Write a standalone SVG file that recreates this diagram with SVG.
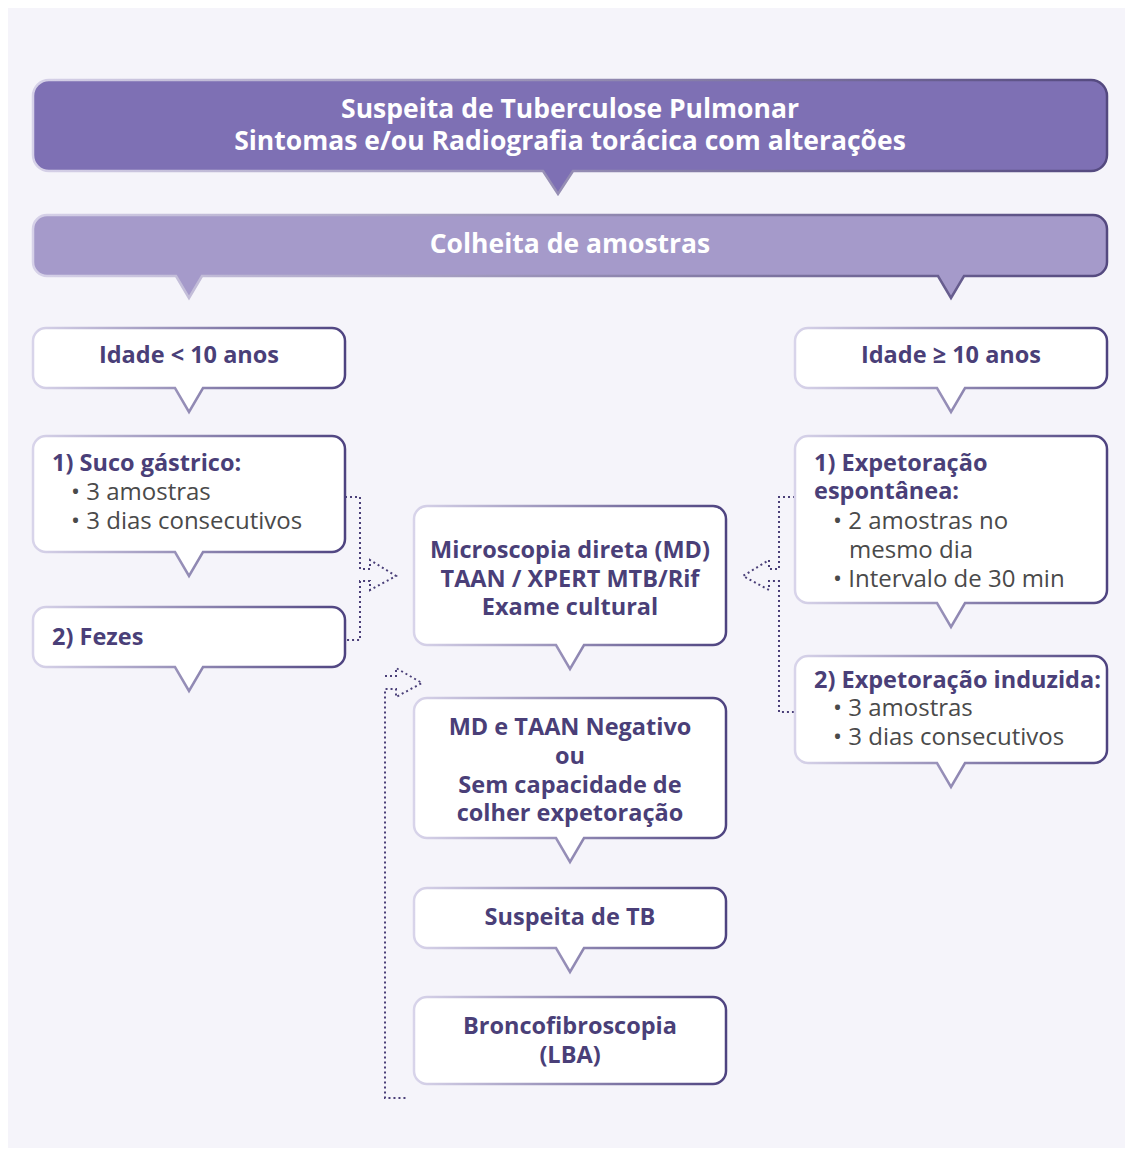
<svg xmlns="http://www.w3.org/2000/svg" width="1131" height="1153" viewBox="0 0 1131 1153">
<defs>
<linearGradient id="edge" x1="0" y1="0" x2="1" y2="0">
<stop offset="0" stop-color="#d8d4ea"/>
<stop offset="1" stop-color="#4e4380"/>
</linearGradient>
<linearGradient id="edgeHead" x1="0" y1="0" x2="1" y2="0">
<stop offset="0" stop-color="#d6d1e8"/>
<stop offset="1" stop-color="#54497f"/>
</linearGradient>
<style>
.box{fill:#ffffff;stroke:url(#edge);stroke-width:2.5;}
.head{fill:#7e70b4;stroke:url(#edgeHead);stroke-width:2.5;}
.sub{fill:#a59aca;stroke:url(#edgeHead);stroke-width:2.5;}
.t{font-family:"Open Sans","Liberation Sans",sans-serif;font-weight:700;font-size:23.5px;fill:#4a3f78;}
.c{text-anchor:middle;}
.w{font-family:"Open Sans","Liberation Sans",sans-serif;font-weight:700;font-size:26.5px;fill:#ffffff;text-anchor:middle;}
.b{font-family:"Open Sans","Liberation Sans",sans-serif;font-weight:400;font-size:24px;fill:#4a4a4a;}
.dot{fill:none;stroke:#4a3f78;stroke-width:2;stroke-dasharray:2 3;}
</style>
</defs>
<rect x="0" y="0" width="1131" height="1153" fill="#ffffff"/>
<rect x="8" y="8" width="1117" height="1140" fill="#f5f4fa"/>

<g id="connectors">
<path class="dot" d="M345,497 H360 V569 H370 V560 L396,576 L370,590 V581 H360 V640 H345"/>
<path class="dot" d="M795,497 H779 V569 H769 V560 L743,576 L769,590 V581 H779 V712 H795"/>
<path class="dot" d="M385,676 H396 V668 L422,683 L396,697 V689 H385 V1098 H407"/>
</g>

<g id="n-header">
<path class="head" d="M49,80 H1091 A16,16 0 0 1 1107,96 V155 A16,16 0 0 1 1091,171 H573 L558,194 L543,171 H49 A16,16 0 0 1 33,155 V96 A16,16 0 0 1 49,80 Z"/>
<text class="w" x="570" y="118">Suspeita de Tuberculose Pulmonar</text>
<text class="w" x="570" y="150">Sintomas e/ou Radiografia torácica com alterações</text>
</g>

<g id="n-colheita">
<path class="sub" d="M47,215 H1093 A14,14 0 0 1 1107,229 V262 A14,14 0 0 1 1093,276 H964 L951,298 L938,276 H202 L189,298 L176,276 H47 A14,14 0 0 1 33,262 V229 A14,14 0 0 1 47,215 Z"/>
<text class="w" x="570" y="253">Colheita de amostras</text>
</g>

<g id="n-idade-menor">
<path class="box" d="M46,328 H332 A13,13 0 0 1 345,341 V375 A13,13 0 0 1 332,388 H203 L189,412 L175,388 H46 A13,13 0 0 1 33,375 V341 A13,13 0 0 1 46,328 Z"/>
<text class="t c" x="189" y="363">Idade &lt; 10 anos</text>
</g>

<g id="n-idade-maior">
<path class="box" d="M808,328 H1094 A13,13 0 0 1 1107,341 V375 A13,13 0 0 1 1094,388 H965 L951,412 L937,388 H808 A13,13 0 0 1 795,375 V341 A13,13 0 0 1 808,328 Z"/>
<text class="t c" x="951" y="363">Idade ≥ 10 anos</text>
</g>

<g id="n-suco">
<path class="box" d="M46,436 H332 A13,13 0 0 1 345,449 V539 A13,13 0 0 1 332,552 H203 L189,576 L175,552 H46 A13,13 0 0 1 33,539 V449 A13,13 0 0 1 46,436 Z"/>
<text class="t" x="52" y="471">1) Suco gástrico:</text>
<text class="b" x="71" y="500">• 3 amostras</text>
<text class="b" x="71" y="529">• 3 dias consecutivos</text>
</g>

<g id="n-fezes">
<path class="box" d="M46,607 H332 A13,13 0 0 1 345,620 V654 A13,13 0 0 1 332,667 H203 L189,691 L175,667 H46 A13,13 0 0 1 33,654 V620 A13,13 0 0 1 46,607 Z"/>
<text class="t" x="52" y="645">2) Fezes</text>
</g>

<g id="n-md">
<path class="box" d="M427,506 H713 A13,13 0 0 1 726,519 V632 A13,13 0 0 1 713,645 H584 L570,669 L556,645 H427 A13,13 0 0 1 414,632 V519 A13,13 0 0 1 427,506 Z"/>
<text class="t c" x="570" y="558">Microscopia direta (MD)</text>
<text class="t c" x="570" y="587">TAAN / XPERT MTB/Rif</text>
<text class="t c" x="570" y="615">Exame cultural</text>
</g>

<g id="n-negativo">
<path class="box" d="M427,698 H713 A13,13 0 0 1 726,711 V825 A13,13 0 0 1 713,838 H584 L570,862 L556,838 H427 A13,13 0 0 1 414,825 V711 A13,13 0 0 1 427,698 Z"/>
<text class="t c" x="570" y="735">MD e TAAN Negativo</text>
<text class="t c" x="570" y="764">ou</text>
<text class="t c" x="570" y="793">Sem capacidade de</text>
<text class="t c" x="570" y="821">colher expetoração</text>
</g>

<g id="n-suspeita-tb">
<path class="box" d="M427,888 H713 A13,13 0 0 1 726,901 V935 A13,13 0 0 1 713,948 H584 L570,972 L556,948 H427 A13,13 0 0 1 414,935 V901 A13,13 0 0 1 427,888 Z"/>
<text class="t c" x="570" y="925">Suspeita de TB</text>
</g>

<g id="n-bronco">
<path class="box" d="M427,997 H713 A13,13 0 0 1 726,1010 V1071 A13,13 0 0 1 713,1084 H427 A13,13 0 0 1 414,1071 V1010 A13,13 0 0 1 427,997 Z"/>
<text class="t c" x="570" y="1034">Broncofibroscopia</text>
<text class="t c" x="570" y="1063">(LBA)</text>
</g>

<g id="n-espontanea">
<path class="box" d="M808,436 H1094 A13,13 0 0 1 1107,449 V590 A13,13 0 0 1 1094,603 H965 L951,627 L937,603 H808 A13,13 0 0 1 795,590 V449 A13,13 0 0 1 808,436 Z"/>
<text class="t" x="814" y="471">1) Expetoração</text>
<text class="t" x="814" y="499">espontânea:</text>
<text class="b" x="833" y="529">• 2 amostras no</text>
<text class="b" x="849" y="558">mesmo dia</text>
<text class="b" x="833" y="587">• Intervalo de 30 min</text>
</g>

<g id="n-induzida">
<path class="box" d="M808,656 H1094 A13,13 0 0 1 1107,669 V750 A13,13 0 0 1 1094,763 H965 L951,787 L937,763 H808 A13,13 0 0 1 795,750 V669 A13,13 0 0 1 808,656 Z"/>
<text class="t" x="814" y="688">2) Expetoração induzida:</text>
<text class="b" x="833" y="716">• 3 amostras</text>
<text class="b" x="833" y="745">• 3 dias consecutivos</text>
</g>
</svg>
